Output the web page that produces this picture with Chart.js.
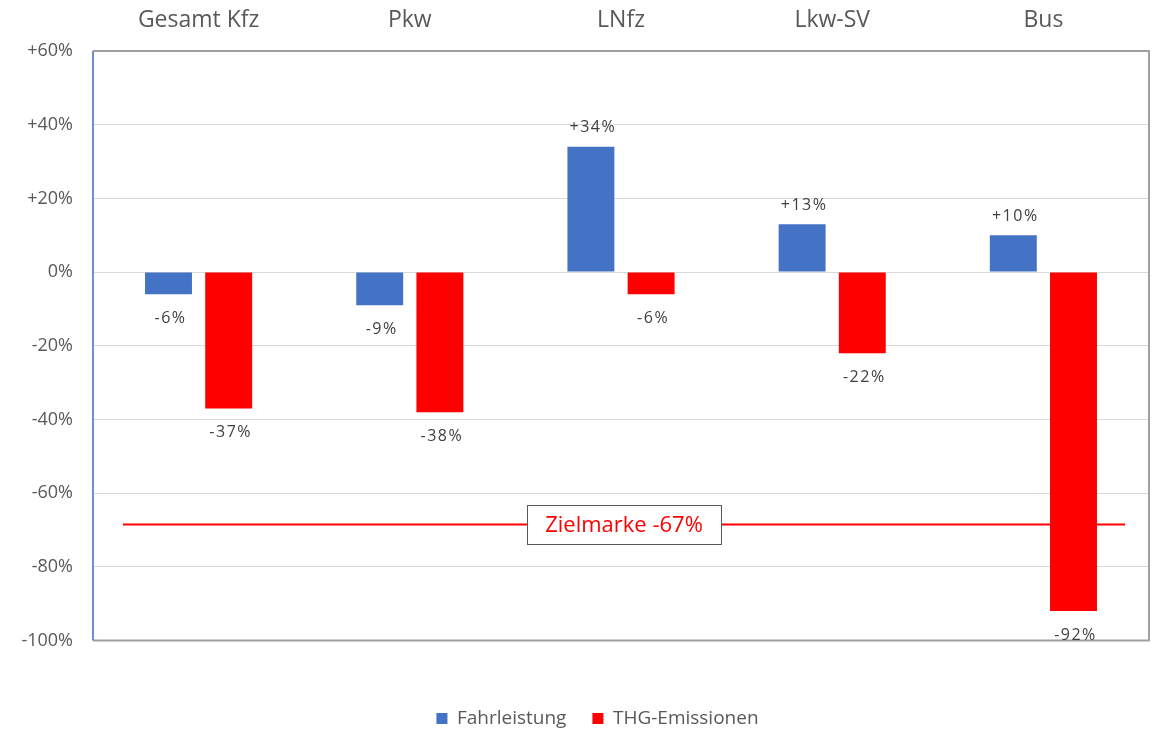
<!DOCTYPE html>
<html>
<head>
<meta charset="utf-8">
<script src="https://cdn.jsdelivr.net/npm/chart.js@4/dist/chart.umd.min.js"></script>
<style>
  html, body { margin: 0; padding: 0; background: #fff; }
  #wrap { width: 1155px; height: 729px; }
</style>
</head>
<body>
<div id="wrap"><canvas id="chart" width="1155" height="729"></canvas></div>
<script>
// chart values
var categories = ['Gesamt Kfz', 'Pkw', 'LNfz', 'Lkw-SV', 'Bus'];
var fahrleistung = [-6, -9, 34, 13, 10];
var thgEmissionen = [-37, -38, -6, -22, -92];
var yTicks = [60, 40, 20, 0, -20, -40, -60, -80, -100];
var zielLabel = 'Zielmarke -67%';
var zielLine = -68.5;  // where the target line sits in the picture

function pct(v) {
  return (v > 0 ? '+' : '') + v + '%';
}

// value labels over/under each bar
var barLabels = {
  id: 'barLabels',
  afterDatasetsDraw: function (chart) {
    var ctx = chart.ctx;
    ctx.save();
    ctx.font = '16px "Open Sans"';
    ctx.letterSpacing = '1.5px';
    ctx.fillStyle = '#404040';
    ctx.textAlign = 'center';
    ctx.textBaseline = 'middle';
    chart.data.datasets.forEach(function (ds, i) {
      chart.getDatasetMeta(i).data.forEach(function (bar, j) {
        var v = ds.data[j];
        var y = v >= 0 ? bar.y - 19 : bar.y + 24;
        ctx.fillText(pct(v), bar.x + 2, y);
      });
    });
    ctx.restore();
  }
};

// frame round the plot area, target line and its box
var frame = {
  id: 'frame',
  afterLayout: function (chart) {
    // legend sits a bit right of the page centre in the original
    chart.legend.left += 23;
    chart.legend.right += 23;
  },
  beforeDatasetsDraw: function (chart) {
    var a = chart.chartArea, ctx = chart.ctx;
    ctx.save();
    ctx.lineWidth = 2;
    ctx.strokeStyle = '#a0a0a0';
    ctx.beginPath();
    ctx.moveTo(a.left, a.top);
    ctx.lineTo(a.right, a.top);
    ctx.lineTo(a.right, a.bottom);
    ctx.lineTo(a.left, a.bottom);
    ctx.stroke();
    ctx.strokeStyle = '#6f8ecf';
    ctx.beginPath();
    ctx.moveTo(a.left, a.top);
    ctx.lineTo(a.left, a.bottom);
    ctx.stroke();
    var yz = chart.scales.y.getPixelForValue(zielLine);
    ctx.strokeStyle = '#ff0000';
    ctx.lineWidth = 2;
    ctx.beginPath();
    ctx.moveTo(a.left + 30, yz);
    ctx.lineTo(a.right - 24, yz);
    ctx.stroke();
    ctx.restore();
  },
  afterDatasetsDraw: function (chart) {
    var a = chart.chartArea, ctx = chart.ctx;
    var yz = chart.scales.y.getPixelForValue(zielLine);
    var cx = (a.left + a.right) / 2 + 3;
    var w = 194, h = 39;
    ctx.save();
    ctx.fillStyle = '#fff';
    ctx.fillRect(cx - w / 2, yz - h / 2, w, h);
    ctx.strokeStyle = '#595959';
    ctx.lineWidth = 1;
    ctx.strokeRect(Math.round(cx - w / 2) + 0.5, Math.round(yz - h / 2) + 0.5, w, h);
    ctx.fillStyle = '#ff0000';
    ctx.font = '22px "Open Sans"';
    ctx.textAlign = 'center';
    ctx.textBaseline = 'middle';
    ctx.fillText(zielLabel, cx, yz + 1);
    ctx.restore();
  }
};

var ctx = document.getElementById('chart').getContext('2d');
var myChart = new Chart(ctx, {
  type: 'bar',
  data: {
    labels: categories,
    datasets: [
      {
        label: 'Fahrleistung',
        data: fahrleistung,
        backgroundColor: '#4472c4',
        categoryPercentage: 0.57,
        barPercentage: 0.78
      },
      {
        label: 'THG-Emissionen',
        data: thgEmissionen,
        backgroundColor: '#ff0000',
        categoryPercentage: 0.57,
        barPercentage: 0.78
      }
    ]
  },
  options: {
    responsive: false,
    animation: false,
    layout: { padding: { left: 0, right: 6, top: 0, bottom: -9 } },
    scales: {
      x: {
        position: 'top',
        grid: { display: false },
        border: { display: false },
        ticks: {
          color: '#595959',
          font: { family: 'Open Sans', size: 23 },
          padding: 9
        },
        afterFit: function (scale) { scale.height = 51; }
      },
      y: {
        min: -100,
        max: 60,
        afterBuildTicks: function (scale) {
          scale.ticks = yTicks.map(function (v) { return { value: v }; });
        },
        grid: { color: '#d9d9d9', lineWidth: 1, drawTicks: false },
        border: { display: false },
        ticks: {
          color: '#595959',
          font: { family: 'Open Sans', size: 18 },
          padding: 20,
          callback: function (v) { return pct(v); }
        },
        afterFit: function (scale) { scale.width = 93; }
      }
    },
    plugins: {
      legend: {
        position: 'bottom',
        title: { display: true, text: ' ', font: { size: 12 }, padding: 14 },
        labels: {
          color: '#595959',
          font: { family: 'Open Sans', size: 19 },
          boxWidth: 11,
          boxHeight: 11,
          padding: 26
        }
      },
      tooltip: { enabled: false }
    }
  },
  plugins: [frame, barLabels]
});
</script>
</body>
</html>
